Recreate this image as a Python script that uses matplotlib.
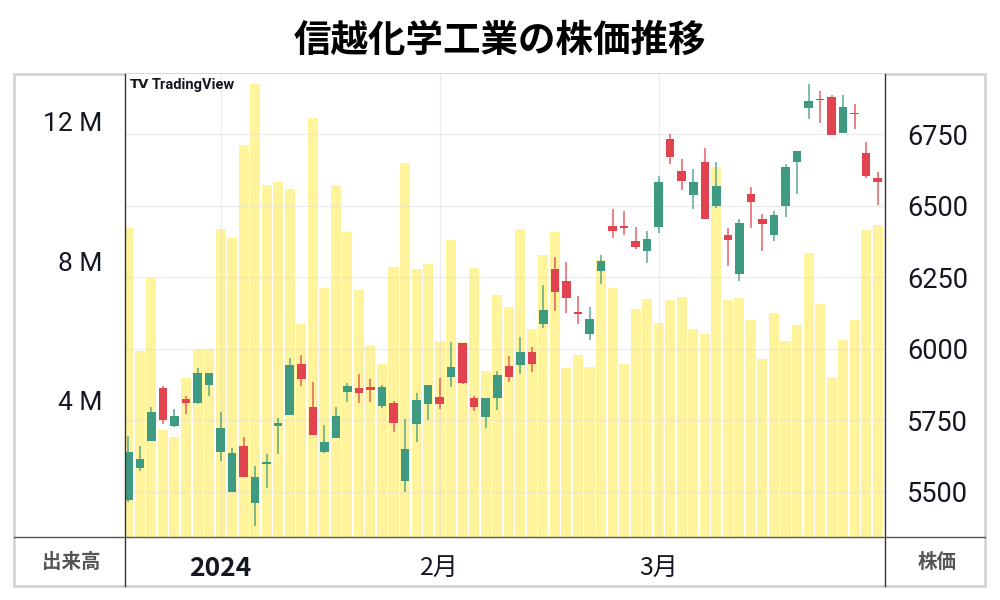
import numpy as np
import matplotlib.pyplot as plt
from matplotlib.lines import Line2D
from matplotlib.patches import Rectangle

plt.rcParams['font.family'] = ['Noto Sans CJK JP', 'DejaVu Sans']

# daily OHLC (yen) and volume (millions of shares), 2023-12-19 .. 2024-03-29
opens = [5471, 5584, 5678, 5864, 5728, 5824, 5809, 5873, 5638, 5500,
         5659, 5461, 5596, 5728, 5768, 5948, 5797, 5640, 5687, 5850,
         5861, 5867, 5800, 5809, 5537, 5735, 5807, 5831, 5902, 6019,
         5826, 5760, 5826, 5940, 5943, 5987, 6086, 6278, 6238, 6128,
         6050, 6272, 6430, 6430, 6377, 6342, 6427, 6734, 6622, 6538,
         6654, 6499, 6398, 6260, 6541, 6454, 6397, 6499, 6652, 6841,
         6873, 6882, 6753, 6823, 6685, 6597]
highs = [5696, 5661, 5797, 5871, 5788, 5836, 5934, 5916, 5777, 5654,
         5691, 5591, 5631, 5756, 5966, 5978, 5885, 5733, 5797, 5879,
         5912, 5894, 5873, 5817, 5753, 5846, 5873, 5896, 6025, 6019,
         5836, 5826, 5922, 5975, 6041, 6007, 6223, 6322, 6302, 6184,
         6147, 6328, 6489, 6482, 6427, 6412, 6604, 6750, 6662, 6629,
         6701, 6654, 6423, 6454, 6565, 6470, 6482, 6645, 6693, 6925,
         6903, 6887, 6887, 6855, 6722, 6619]
lows = [5462, 5572, 5678, 5735, 5726, 5770, 5806, 5836, 5607, 5500,
        5550, 5378, 5514, 5633, 5768, 5871, 5698, 5634, 5687, 5815,
        5809, 5812, 5792, 5708, 5500, 5675, 5751, 5789, 5867, 5875,
        5782, 5724, 5786, 5885, 5912, 5920, 6071, 6132, 6124, 6085,
        6031, 6225, 6386, 6398, 6349, 6301, 6404, 6645, 6555, 6489,
        6454, 6491, 6290, 6238, 6421, 6343, 6378, 6462, 6540, 6802,
        6791, 6748, 6753, 6769, 6596, 6503]
closes = [5640, 5614, 5780, 5751, 5766, 5811, 5914, 5916, 5724, 5636,
          5550, 5551, 5605, 5739, 5943, 5893, 5698, 5675, 5766, 5870,
          5846, 5856, 5865, 5739, 5649, 5821, 5873, 5807, 5937, 5879,
          5795, 5826, 5908, 5902, 5987, 5945, 6135, 6197, 6176, 6123,
          6103, 6307, 6413, 6421, 6355, 6385, 6582, 6672, 6587, 6582,
          6454, 6569, 6381, 6441, 6512, 6437, 6467, 6637, 6693, 6865,
          6870, 6748, 6844, 6820, 6605, 6582]
volumes = [8.94, 5.41, 7.52, 3.15, 2.95, 4.62, 5.46, 5.46, 8.92, 8.65,
           11.34, 13.08, 10.19, 10.28, 10.07, 6.18, 12.10, 7.23, 10.19, 8.83,
           7.18, 5.55, 5.03, 7.82, 10.83, 7.76, 7.92, 5.70, 8.60, 5.68,
           7.81, 4.83, 7.01, 6.69, 8.91, 6.04, 8.17, 8.83, 4.91, 5.29,
           4.94, 8.02, 7.22, 5.04, 6.61, 6.90, 6.21, 6.87, 6.96, 6.04,
           5.89, 10.71, 6.88, 6.94, 6.31, 5.18, 6.49, 5.70, 6.17, 8.23,
           6.77, 4.67, 5.73, 6.30, 8.90, 9.04]

month_pos = [8, 27, 46]
month_labels = ["2024", "2月", "3月"]
price_ticks = [5500, 5750, 6000, 6250, 6500, 6750]
vol_ticks = [4, 8, 12]
vol_labels = ["4 M", "8 M", "12 M"]

up_color = "#3f9a82"
down_color = "#e2444f"

fig = plt.figure(figsize=(10, 6), dpi=100)
rect = [0.125, 1 - 537 / 600, 0.76, (537 - 74) / 600]

axv = fig.add_axes(rect)
ax = fig.add_axes(rect)
axv.set_zorder(1)
ax.set_zorder(2)
ax.patch.set_visible(False)

x = np.arange(len(opens))
o = np.array(opens, float)
c = np.array(closes, float)
h = np.array(highs, float)
l = np.array(lows, float)

# volume
axv.bar(x, volumes, width=0.87, color="#ffeb3b", alpha=0.5, linewidth=0)
axv.set_ylim(0.06, 13.38)
axv.set_xlim(-0.29, 65.63)
axv.set_yticks(vol_ticks)
axv.set_yticklabels(vol_labels)
axv.tick_params(axis="y", length=0, pad=16, labelsize=19, labelcolor="#131722")
for lab in axv.get_yticklabels():
    lab.set_family(["Roboto", "DejaVu Sans"])
axv.set_xticks([])
for s in axv.spines.values():
    s.set_visible(False)

# candles
colors = [up_color if cc >= oo else down_color for oo, cc in zip(o, c)]
ax.vlines(x, l, h, colors=colors, linewidth=1.1, alpha=0.85, zorder=3)
body_lo = np.minimum(o, c)
body_h = np.maximum(np.abs(c - o), 4)
ax.bar(x, body_h, bottom=body_lo, width=0.74, color=colors, linewidth=0, zorder=4)

ax.set_xlim(-0.29, 65.63)
ax.set_ylim(5341, 6961)
ax.yaxis.tick_right()
ax.set_yticks(price_ticks)
ax.tick_params(axis="y", length=0, pad=16, labelsize=19.5, labelcolor="#131722")
for lab in ax.get_yticklabels():
    lab.set_family(["Roboto", "DejaVu Sans"])
ax.set_xticks(month_pos)
ax.set_xticklabels(month_labels)
ax.tick_params(axis="x", length=0, pad=13, labelsize=18, labelcolor="#131722")
ax.get_xticklabels()[0].set_fontweight("bold")
ax.get_xticklabels()[0].set_fontsize(19)
ax.grid(True, color="#d8d8d8", alpha=0.45, linewidth=1)
for s in ax.spines.values():
    s.set_visible(False)

# frame and dividers (figure pixels -> fraction)
def fx(px):
    return px / 1000

def fy(py):
    return 1 - py / 600

fig.patches.append(Rectangle((fx(14), fy(586)), fx(971), (586 - 74) / 600,
                             transform=fig.transFigure, fill=False,
                             edgecolor="#d4d4d4", linewidth=2, zorder=0))
fig.lines.append(Line2D([fx(125), fx(125)], [fy(74), fy(586)],
                        transform=fig.transFigure, color="#333333", linewidth=1))
fig.lines.append(Line2D([fx(885), fx(885)], [fy(74), fy(586)],
                        transform=fig.transFigure, color="#333333", linewidth=1))
fig.lines.append(Line2D([fx(14), fx(985)], [fy(537), fy(537)],
                        transform=fig.transFigure, color="#555555", linewidth=1))

fig.text(0.5, fy(40), "信越化学工業の株価推移", ha="center", va="center",
         fontsize=27, fontweight="bold", color="black")
fig.text(fx(71), fy(562), "出来高", ha="center", va="center",
         fontsize=14, fontweight="bold", color="#555555")
fig.text(fx(937), fy(562), "株価", ha="center", va="center",
         fontsize=14, fontweight="bold", color="#555555")

# TradingView mark
fig.text(fx(130), fy(85), "TV", ha="left", va="center", fontsize=9.5,
         fontweight="heavy", color="#131722", family="DejaVu Sans")
fig.text(fx(152), fy(85), "TradingView", ha="left", va="center", fontsize=10.5,
         fontweight="semibold", color="#131722", family=["Roboto", "DejaVu Sans"])

fig.savefig("out.png", dpi=100, facecolor="white")
